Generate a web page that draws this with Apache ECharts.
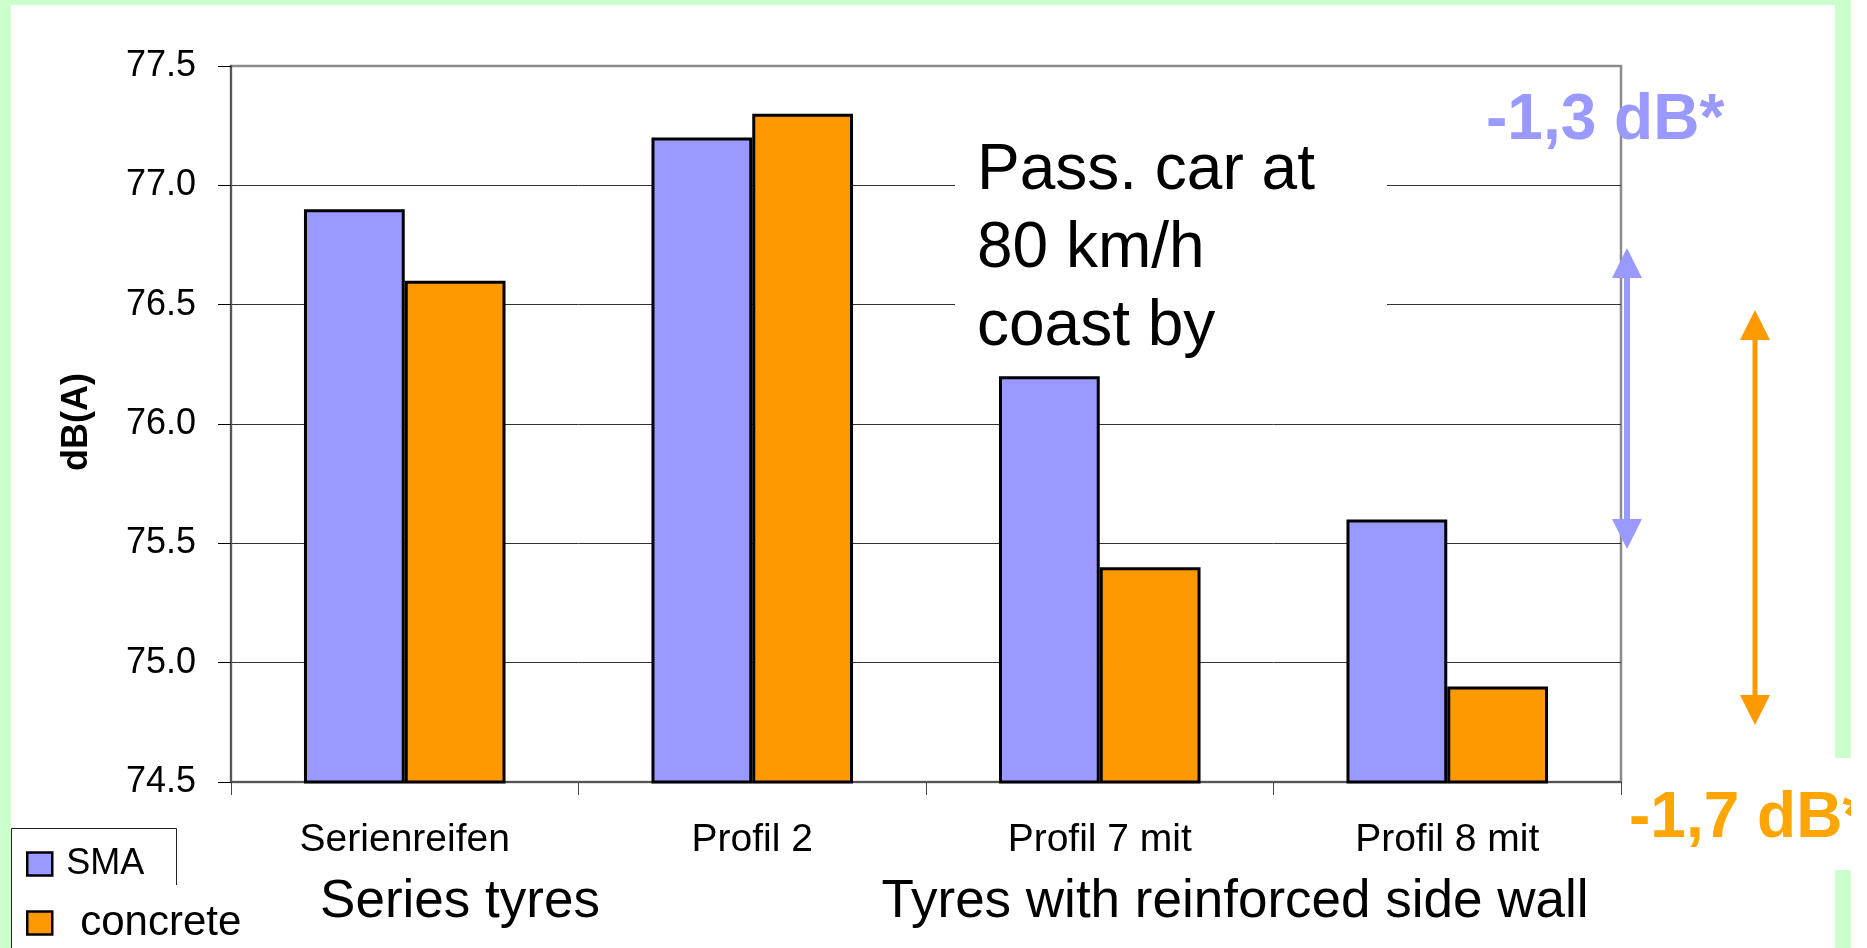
<!DOCTYPE html>
<html>
<head>
<meta charset="utf-8">
<title>Pass-by noise of car tyres</title>
<script src="https://cdn.jsdelivr.net/npm/echarts@6/dist/echarts.min.js"></script>
<style>
  html, body { margin: 0; padding: 0; background: #ffffff; }
  #chart { width: 1867px; height: 948px; }
</style>
</head>
<body>
<div id="chart"></div>
<script>
// Tyre types on the category axis
const categories = ['Serienreifen', 'Profil 2', 'Profil 7 mit', 'Profil 8 mit'];
// Coast-by level in dB(A) on each road surface
const smaValues = [76.9, 77.2, 76.2, 75.6];
const concreteValues = [76.6, 77.3, 75.4, 74.9];
const seriesNames = ['SMA', 'concrete'];
// Value axis range and step
const yMin = 74.5;
const yMax = 77.5;
const yStep = 0.5;
// Texts placed around the plot
const groupLabels = ['Series tyres', 'Tyres with reinforced side wall'];
const noteLines = ['Pass. car at', '80 km/h', 'coast by'];
const axisTitle = 'dB(A)';

const FONT = "'Liberation Sans', Arial, Helvetica, sans-serif";
const BLUE = '#9999ff';
const ORANGE = '#ff9900';
const ORANGE_TEXT = '#ffa500';
const GREEN = '#ccffcc';

// Level change from series tyres to Profil 8, written with a decimal comma
function dropLabel(values) {
  const d = values[values.length - 1] - values[0];
  return d.toFixed(1).replace('.', ',') + ' dB*';
}

function arrow(x, yTop, yBottom, color, width) {
  const head = 30, half = 15;
  return {
    type: 'group', z: 20,
    children: [
      { type: 'line', shape: { x1: x, y1: yTop + head - 2, x2: x, y2: yBottom - head + 2 },
        style: { stroke: color, lineWidth: width } },
      { type: 'polygon', shape: { points: [[x, yTop], [x - half, yTop + head], [x + half, yTop + head]] },
        style: { fill: color } },
      { type: 'polygon', shape: { points: [[x, yBottom], [x - half, yBottom - head], [x + half, yBottom - head]] },
        style: { fill: color } }
    ]
  };
}

const chart = echarts.init(document.getElementById('chart'), null, { renderer: 'canvas' });

const option = {
  backgroundColor: '#ffffff',
  animation: false,
  textStyle: { fontFamily: FONT },
  grid: {
    left: 231, top: 66, width: 1390, height: 716,
    show: true, backgroundColor: '#ffffff',
    borderColor: '#8c8c8c', borderWidth: 2.5,
    containLabel: false
  },
  legend: [
    {
      data: [seriesNames[0]], left: 26, top: 846, orient: 'vertical', padding: 0,
      icon: 'rect', itemWidth: 25, itemHeight: 23, selectedMode: false,
      itemStyle: { borderColor: '#000', borderWidth: 2.5 },
      formatter: '{s|{name}}',
      textStyle: {
        color: '#000', fontFamily: FONT,
        rich: { s: { fontSize: 36, lineHeight: 36, fontFamily: FONT, color: '#000', padding: [0, 0, 0, 9] } }
      }
    },
    {
      data: [seriesNames[1]], left: 26, top: 902, orient: 'vertical', padding: 0,
      icon: 'rect', itemWidth: 25, itemHeight: 23, selectedMode: false,
      itemStyle: { borderColor: '#000', borderWidth: 2.5 },
      formatter: '{c|{name}}',
      textStyle: {
        color: '#000', fontFamily: FONT,
        rich: { c: { fontSize: 42, lineHeight: 42, fontFamily: FONT, color: '#000', padding: [0, 0, 0, 23] } }
      }
    }
  ],
  xAxis: {
    type: 'category',
    data: categories,
    axisLine: { show: true, lineStyle: { color: '#555', width: 2 } },
    axisTick: { show: true, alignWithLabel: false, interval: 0, length: 13, lineStyle: { color: '#444', width: 1 } },
    axisLabel: { color: '#000', fontSize: 39, fontFamily: FONT, margin: 39, interval: 0 },
    splitLine: { show: false }
  },
  yAxis: {
    type: 'value',
    min: yMin, max: yMax, interval: yStep,
    axisLine: { show: true, lineStyle: { color: '#555', width: 2 } },
    axisTick: { show: true, length: 13, lineStyle: { color: '#000', width: 1 } },
    axisLabel: {
      color: '#000', fontSize: 36, fontFamily: FONT, margin: 35,
      padding: [0, 0, 7, 0],
      formatter: v => v.toFixed(1)
    },
    splitLine: {
      show: true, showMinLine: false, showMaxLine: false,
      lineStyle: { color: '#333', width: 1 }
    }
  },
  series: [
    {
      name: seriesNames[0], type: 'bar', data: smaValues,
      barWidth: '29%', barGap: '0%',
      itemStyle: { color: BLUE, borderColor: '#000', borderWidth: 3 }
    },
    {
      name: seriesNames[1], type: 'bar', data: concreteValues,
      barWidth: '29%', barGap: '0%',
      itemStyle: { color: ORANGE, borderColor: '#000', borderWidth: 3 }
    }
  ],
  graphic: [
    // slide frame
    { type: 'rect', z: 30, shape: { x: 0, y: 0, width: 11, height: 948 }, style: { fill: GREEN } },
    { type: 'rect', z: 30, shape: { x: 0, y: 0, width: 1851, height: 5 }, style: { fill: GREEN } },
    { type: 'rect', z: 30, shape: { x: 1835, y: 0, width: 16, height: 948 }, style: { fill: GREEN } },
    // legend frame
    { type: 'polyline', z: 30, shape: { points: [[11.5, 948], [11.5, 828.5], [176.5, 828.5], [176.5, 885]] },
      style: { stroke: '#222', lineWidth: 1, fill: null } },
    // y axis title
    { type: 'text', z: 30, x: 77, y: 422, rotation: Math.PI / 2,
      style: { text: axisTitle, font: 'bold 36px ' + FONT, fill: '#000', align: 'center', verticalAlign: 'middle' } },
    // note about the measurement
    { type: 'rect', z: 15, shape: { x: 955, y: 120, width: 432, height: 245 }, style: { fill: '#ffffff' } },
    { type: 'text', z: 16, x: 977, y: 171,
      style: { text: noteLines[0], font: '64px ' + FONT, fill: '#000', align: 'left', verticalAlign: 'middle' } },
    { type: 'text', z: 16, x: 977, y: 249,
      style: { text: noteLines[1], font: '64px ' + FONT, fill: '#000', align: 'left', verticalAlign: 'middle' } },
    { type: 'text', z: 16, x: 977, y: 327,
      style: { text: noteLines[2], font: '64px ' + FONT, fill: '#000', align: 'left', verticalAlign: 'middle' } },
    // group captions under the categories
    { type: 'text', z: 16, x: 460, y: 902,
      style: { text: groupLabels[0], font: '53px ' + FONT, fill: '#000', align: 'center', verticalAlign: 'middle' } },
    { type: 'text', z: 16, x: 1235, y: 902,
      style: { text: groupLabels[1], font: '53px ' + FONT, fill: '#000', align: 'center', verticalAlign: 'middle' } },
    // level reductions
    arrow(1627, 248, 549, BLUE, 6),
    arrow(1755, 310, 725, ORANGE, 5),
    { type: 'text', z: 20, x: 1486, y: 121,
      style: { text: dropLabel(smaValues), font: 'bold 64px ' + FONT, fill: BLUE, align: 'left', verticalAlign: 'middle' } },
    { type: 'rect', z: 35, shape: { x: 1626, y: 758, width: 225, height: 112 }, style: { fill: '#ffffff' } },
    { type: 'text', z: 36, x: 1629, y: 819,
      style: { text: dropLabel(concreteValues), font: 'bold 64px ' + FONT, fill: ORANGE_TEXT, align: 'left', verticalAlign: 'middle' } },
    // page edge
    { type: 'rect', z: 40, shape: { x: 1851, y: 0, width: 16, height: 948 }, style: { fill: '#ffffff' } }
  ]
};

chart.setOption(option);
</script>
</body>
</html>
